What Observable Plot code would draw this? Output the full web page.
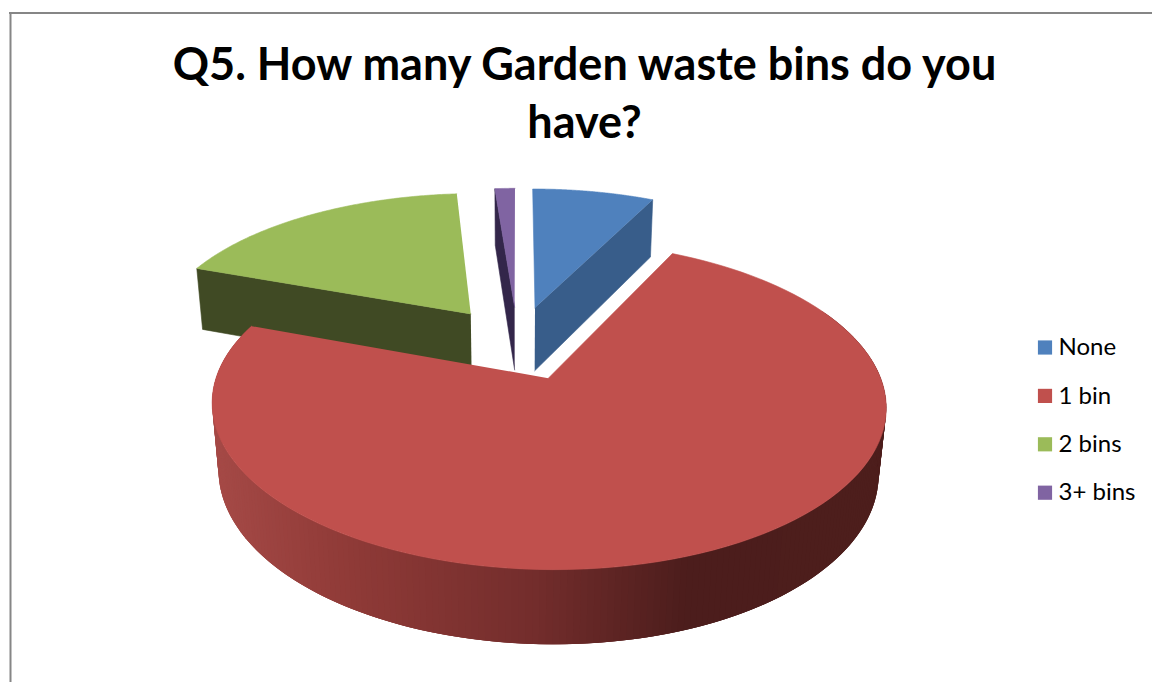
<!DOCTYPE html>
<html>
<head>
<meta charset="utf-8">
<script src="https://cdn.jsdelivr.net/npm/d3@7"></script>
<script src="https://cdn.jsdelivr.net/npm/@observablehq/plot@0.6"></script>
<style>
  html, body { margin: 0; padding: 0; background: #fff; overflow: hidden; }
  svg { display: block; }
</style>
</head>
<body>
<div id="chart"></div>
<script>
const titleLines = ["Q5. How many Garden waste bins do you", "have?"];
const categories = ["None", "1 bin", "2 bins", "3+ bins"];
const shares = [7.3, 73.3, 18.2, 1.2];
const topColors = ["#4F81BD", "#C0504D", "#9BBB59", "#8064A2"];
const wallColors = ["#385D8A", null, "#404A24", "#33264A"];
const rimPositions = [210, 360, 548, 700, 886];
const rimColors = ["#A64A47", "#8F3A37", "#732D2C", "#4C1D1C", "#4D1E1C"];

// Camera used to lay the tilted disc onto the page.
const camera = {cx: 517, cy: 342, fx: 320, fy: 148, perspective: 0.16, thickness: 66, sag: 0.02, explode: 0.25};

function project(X, Y, bottom) {
  const w = 1 + camera.perspective * Y + (bottom ? camera.sag : 0);
  return {
    px: camera.cx + camera.fx * X / w,
    py: camera.cy - (camera.fy * Y - (bottom ? camera.thickness : 0)) / w
  };
}

const total = d3.sum(shares);
const bounds = d3.cumsum(shares).map((c) => (c / total) * 2 * Math.PI);
const slices = categories.map((name, i) => {
  const a0 = i ? bounds[i - 1] : 0;
  const a1 = bounds[i];
  const mid = (a0 + a1) / 2;
  return {
    name, i, a0, a1,
    ox: camera.explode * Math.sin(mid),
    oy: camera.explode * Math.cos(mid)
  };
});

const rimPoint = (s, a, bottom) => project(s.ox + Math.sin(a), s.oy + Math.cos(a), bottom);
const apex = (s, bottom) => project(s.ox, s.oy, bottom);

function polygon(target, id, color, points) {
  for (const p of points) target.push({id, color, ...p});
}

function addTop(target, s) {
  const arc = d3.range(0, 121).map((k) => rimPoint(s, s.a0 + ((s.a1 - s.a0) * k) / 120, false));
  polygon(target, `top-${s.name}`, topColors[s.i], [apex(s, false), ...arc]);
}

function addWall(target, s, angle) {
  polygon(target, `wall-${s.name}`, wallColors[s.i], [
    apex(s, false), rimPoint(s, angle, false), rimPoint(s, angle, true), apex(s, true)
  ]);
}

const [none, one, two, three] = slices;
const rimColor = d3.scaleLinear().domain(rimPositions).range(rimColors).clamp(true);

const smallSlices = [];
addWall(smallSlices, two, two.a0);
addTop(smallSlices, two);
addWall(smallSlices, three, three.a0);
addTop(smallSlices, three);
addWall(smallSlices, none, none.a1);
addTop(smallSlices, none);

// The outer wall of the large slice shades from left to right; each strip
// runs under the next one so that no seams show between them.
const rimStrips = [];
const stripStep = Math.PI / 180;
for (let a = one.a1 - stripStep; a > Math.PI * 0.35; a -= stripStep) {
  const t0 = rimPoint(one, a, false), t1 = rimPoint(one, a + stripStep, false);
  const far = Math.min(a + 3 * stripStep, one.a1);
  polygon(rimStrips, `rim-${a}`, rimColor((t0.px + t1.px) / 2), [
    rimPoint(one, a, false), rimPoint(one, far, false), rimPoint(one, far, true), rimPoint(one, a, true)
  ]);
}

const largeTop = [];
addTop(largeTop, one);

const chart = Plot.plot({
  width: 1152,
  height: 682,
  margin: 0,
  x: {domain: [0, 1152], range: [0, 1152], axis: null},
  y: {domain: [0, 682], range: [0, 682], axis: null},
  color: {type: "identity"},
  marks: [
    Plot.ruleX([10], {y1: 12, y2: 682, stroke: "#868686", strokeWidth: 2}),
    Plot.ruleY([12.5], {x1: 9, x2: 1152, stroke: "#868686", strokeWidth: 2}),
    Plot.line(smallSlices, {x: "px", y: "py", z: "id", fill: "color", stroke: "color", strokeWidth: 0.6}),
    Plot.line(rimStrips, {x: "px", y: "py", z: "id", fill: "color", stroke: null}),
    Plot.line(largeTop, {x: "px", y: "py", z: "id", fill: "color", stroke: "color", strokeWidth: 0.6}),
    Plot.text(titleLines, {
      x: () => 584,
      y: (d, i) => 65 + i * 58,
      text: (d) => d,
      fontFamily: "Lato",
      fontWeight: "bold",
      fontSize: 45,
      fill: "#000"
    }),
    Plot.dot(categories, {
      x: () => 1044.5,
      y: (d, i) => 347 + i * 48.4,
      symbol: "square",
      r: 8,
      fill: (d, i) => topColors[i],
      stroke: null
    }),
    Plot.text(categories, {
      x: () => 1058,
      y: (d, i) => 347 + i * 48.4,
      text: (d) => d,
      textAnchor: "start",
      fontFamily: "Lato",
      fontSize: 24,
      fill: "#000"
    })
  ]
});
document.getElementById("chart").append(chart);
</script>
</body>
</html>
